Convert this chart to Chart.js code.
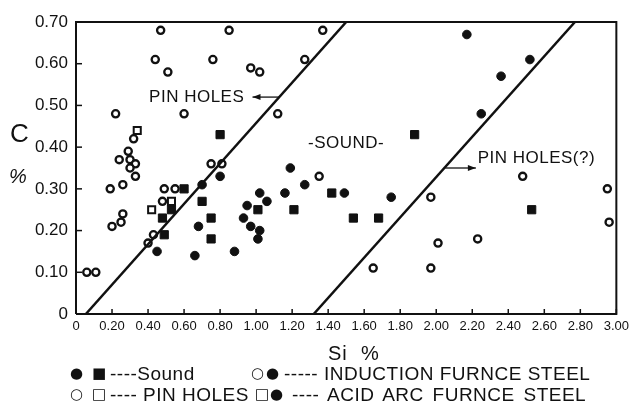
<!DOCTYPE html>
<html><head><meta charset="utf-8">
<script src="https://cdn.jsdelivr.net/npm/chart.js@4.4.0/dist/chart.umd.min.js"></script>
<style>
html,body{margin:0;padding:0;background:#fff;}
#wrap{position:relative;width:634px;height:408px;overflow:hidden;}
canvas{position:absolute;left:0;top:0;}
.t{position:absolute;font-family:'Liberation Sans',Arial,sans-serif;color:#111;white-space:nowrap;line-height:1;transform:translateY(-50%);}
.lg{font-size:19px;letter-spacing:0.5px;}
.mk{font-family:'DejaVu Sans',sans-serif;font-size:15px;letter-spacing:0;}
</style></head><body>
<div id="wrap">
<canvas id="c" width="634" height="408"></canvas>
<div class="t" style="left:10px;top:133px;font-size:26px;">C</div>
<div class="t" style="left:9px;top:176px;font-size:20px;font-style:italic;">%</div>
<div class="t" style="left:328px;top:353px;font-size:20px;letter-spacing:1px;">Si&nbsp;&nbsp;%</div>

<div class="t mk" style="left:70px;top:373px;">●</div>
<div class="t mk" style="left:92px;top:373px;">■</div>
<div class="t lg" style="left:110px;top:373px;">----Sound</div>
<div class="t mk" style="left:251px;top:373px;">○</div>
<div class="t mk" style="left:266px;top:373px;">●</div>
<div class="t lg" style="left:284px;top:373px;">----- INDUCTION FURNCE STEEL</div>

<div class="t mk" style="left:70px;top:394px;">○</div>
<div class="t mk" style="left:92px;top:394px;">□</div>
<div class="t lg" style="left:110px;top:394px;">---- PIN HOLES</div>
<div class="t mk" style="left:255px;top:394px;">□</div>
<div class="t mk" style="left:270px;top:394px;">●</div>
<div class="t lg" style="left:292px;top:394px;word-spacing:3px;">---- ACID ARC FURNCE STEEL</div>
</div>
<script>
// ---- data (Si %, C %) ----
const soundInductionSi = [0.45,0.66,0.68,0.70,0.80,0.88,0.93,0.95,0.97,1.02,1.01,1.02,1.06,1.16,1.19,1.27,1.49,1.75,2.17,2.25,2.36,2.52];
const soundInductionC  = [0.15,0.14,0.21,0.31,0.33,0.15,0.23,0.26,0.21,0.20,0.18,0.29,0.27,0.29,0.35,0.31,0.29,0.28,0.67,0.48,0.57,0.61];

const soundAcidArcSi = [0.48,0.49,0.53,0.60,0.70,0.75,0.75,0.80,1.01,1.21,1.42,1.54,1.68,1.88,2.53];
const soundAcidArcC  = [0.23,0.19,0.25,0.30,0.27,0.23,0.18,0.43,0.25,0.25,0.29,0.23,0.23,0.43,0.25];

const pinInductionSi = [0.06,0.11,0.19,0.20,0.25,0.26,0.26,0.22,0.24,0.29,0.30,0.33,0.30,0.33,0.32,0.40,0.43,0.48,0.49,0.55,0.44,0.47,0.51,0.60,0.75,0.81,0.76,0.85,0.97,1.02,1.12,1.27,1.37,1.35,1.65,1.97,1.97,2.01,2.23,2.48,2.95,2.96];
const pinInductionC  = [0.10,0.10,0.30,0.21,0.22,0.24,0.31,0.48,0.37,0.39,0.37,0.36,0.35,0.33,0.42,0.17,0.19,0.27,0.30,0.30,0.61,0.68,0.58,0.48,0.36,0.36,0.61,0.68,0.59,0.58,0.48,0.61,0.68,0.33,0.11,0.11,0.28,0.17,0.18,0.33,0.30,0.22];

const pinAcidArcSi = [0.34,0.42,0.53];
const pinAcidArcC  = [0.44,0.25,0.27];

const boundaryLowSi  = [0.055,1.50];
const boundaryLowC   = [0.00,0.70];
const boundaryHighSi = [1.32,2.77];
const boundaryHighC  = [0.00,0.70];

const xTickLabels = ['0','0.20','0.40','0.60','0.80','1.00','1.20','1.40','1.60','1.80','2.00','2.20','2.40','2.60','2.80','3.00'];
const yTickLabels = ['0','0.10','0.20','0.30','0.40','0.50','0.60','0.70'];

// annotation texts (placed in data coordinates)
const annotations = [
  {text:'PIN HOLES', si:0.67, c:0.52, align:'center'},
  {text:'-SOUND-', si:1.50, c:0.41, align:'center'},
  {text:'PIN HOLES(?)', si:2.23, c:0.373, align:'left'}
];
const arrows = [
  {fromSi:1.13, toSi:0.98, c:0.52},
  {fromSi:2.05, toSi:2.22, c:0.35}
];

const pts = (xs, ys) => xs.map((x,i)=>({x:x, y:ys[i]}));
const INK = '#111';
const FONT = "'Liberation Sans',Arial,sans-serif";

const framePlugin = {
  id:'frame',
  afterDraw(chart){
    const {ctx, chartArea:a, scales:{x,y}} = chart;
    ctx.save();
    ctx.strokeStyle = INK; ctx.lineWidth = 2;
    ctx.beginPath();
    ctx.moveTo(a.left, a.bottom); ctx.lineTo(a.left, a.top); ctx.lineTo(a.right, a.top); ctx.lineTo(a.right, a.bottom); ctx.lineTo(a.left, a.bottom);
    ctx.stroke();
    ctx.lineWidth = 1.5;
    x.ticks.forEach(t=>{ const px = x.getPixelForValue(t.value); ctx.beginPath(); ctx.moveTo(px,a.bottom); ctx.lineTo(px,a.bottom-5); ctx.stroke(); });
    y.ticks.forEach(t=>{ const py = y.getPixelForValue(t.value); ctx.beginPath(); ctx.moveTo(a.left,py); ctx.lineTo(a.left+6,py); ctx.stroke(); });
    // annotations
    ctx.fillStyle = INK;
    ctx.font = '17px ' + FONT;
    try { ctx.letterSpacing = '0.5px'; } catch(e){}
    ctx.textBaseline = 'middle';
    annotations.forEach(an=>{
      ctx.textAlign = an.align;
      ctx.fillText(an.text, x.getPixelForValue(an.si), y.getPixelForValue(an.c));
    });
    try { ctx.letterSpacing = '0px'; } catch(e){}
    ctx.lineWidth = 1.3;
    arrows.forEach(ar=>{
      const x1 = x.getPixelForValue(ar.fromSi), x2 = x.getPixelForValue(ar.toSi), py = y.getPixelForValue(ar.c);
      ctx.beginPath(); ctx.moveTo(x1,py); ctx.lineTo(x2,py); ctx.stroke();
      const d = x2 > x1 ? -1 : 1;
      ctx.beginPath(); ctx.moveTo(x2,py); ctx.lineTo(x2+d*8,py-3); ctx.lineTo(x2+d*8,py+3); ctx.closePath(); ctx.fill();
    });
    ctx.restore();
  }
};

new Chart(document.getElementById('c'), {
  type:'scatter',
  data:{datasets:[
    {label:'Boundary low', type:'line', data:pts(boundaryLowSi,boundaryLowC), borderColor:INK, borderWidth:2.6, pointRadius:0, fill:false},
    {label:'Boundary high', type:'line', data:pts(boundaryHighSi,boundaryHighC), borderColor:INK, borderWidth:2.6, pointRadius:0, fill:false},
    {label:'Sound - induction', data:pts(soundInductionSi,soundInductionC), pointStyle:'circle', pointRadius:4.3, backgroundColor:INK, borderColor:INK, borderWidth:1},
    {label:'Sound - acid arc', data:pts(soundAcidArcSi,soundAcidArcC), pointStyle:'rect', pointRadius:5.8, backgroundColor:INK, borderColor:INK, borderWidth:1},
    {label:'Pin holes - induction', data:pts(pinInductionSi,pinInductionC), pointStyle:'circle', pointRadius:3.6, backgroundColor:'#fff', borderColor:INK, borderWidth:2.3},
    {label:'Pin holes - acid arc', data:pts(pinAcidArcSi,pinAcidArcC), pointStyle:'rect', pointRadius:5, backgroundColor:'#fff', borderColor:INK, borderWidth:2}
  ]},
  options:{
    responsive:false, animation:false, clip:false,
    layout:{padding:{top:22,right:12,left:0,bottom:0}},
    plugins:{legend:{display:false}, tooltip:{enabled:false}},
    scales:{
      x:{type:'linear', min:0, max:3,
         afterFit:s=>{s.height=94;},
         afterBuildTicks:s=>{ s.ticks = xTickLabels.map((l,i)=>({value:Math.round(i*20)/100})); },
         ticks:{autoSkip:false, maxRotation:0, padding:5, color:INK, font:{family:FONT, size:13}, callback:(v,i)=>xTickLabels[i]},
         grid:{display:false, drawTicks:false}, border:{display:false}},
      y:{min:0, max:0.7,
         afterFit:s=>{s.width=76;},
         afterBuildTicks:s=>{ s.ticks = yTickLabels.map((l,i)=>({value:Math.round(i*10)/100})); },
         ticks:{padding:8, color:INK, font:{family:FONT, size:17}, callback:(v,i)=>yTickLabels[i]},
         grid:{display:false, drawTicks:false}, border:{display:false}}
    }
  },
  plugins:[framePlugin]
});
</script>
</body></html>
